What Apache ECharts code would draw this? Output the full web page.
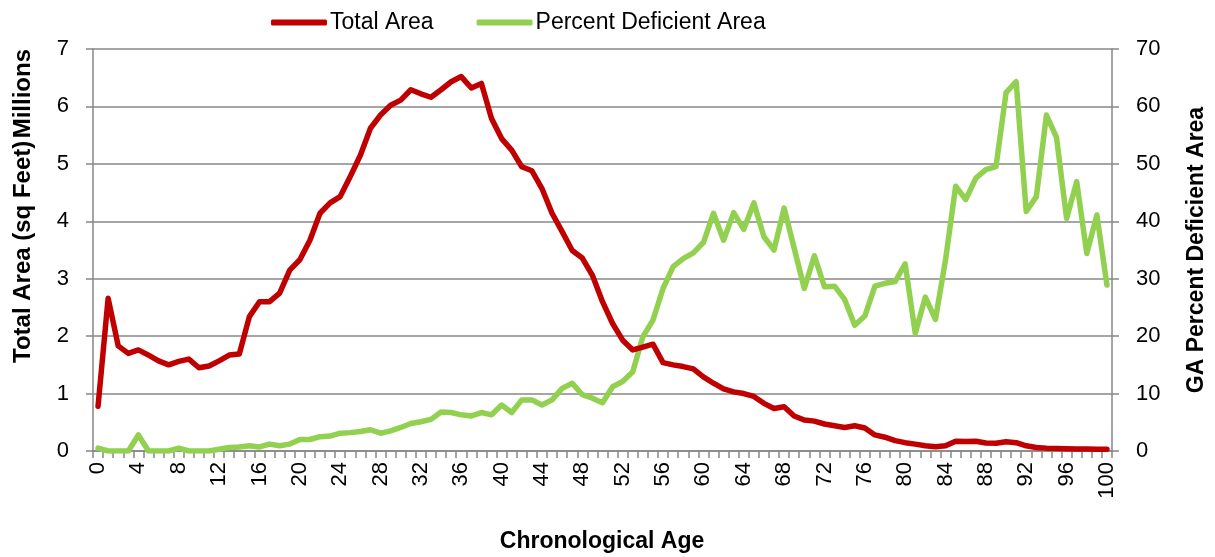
<!DOCTYPE html>
<html>
<head>
<meta charset="utf-8">
<script src="https://cdn.jsdelivr.net/npm/echarts@6/dist/echarts.min.js"></script>
<style>
  html, body { margin: 0; padding: 0; background: #fff; }
  #main { width: 1215px; height: 557px; }
</style>
</head>
<body>
<div id="main"></div>
<script>
// chronological age 0..100
const ages = [];
for (let a = 0; a <= 100; a++) ages.push(String(a));

// total area, millions of sq feet
const totalArea = [
  0.78, 2.66, 1.83, 1.70, 1.76, 1.67, 1.57, 1.50, 1.56, 1.60,
  1.45, 1.48, 1.57, 1.67, 1.69, 2.34, 2.60, 2.60, 2.75, 3.15,
  3.33, 3.67, 4.14, 4.32, 4.43, 4.78, 5.15, 5.62, 5.85, 6.02,
  6.11, 6.29, 6.22, 6.16, 6.29, 6.43, 6.52, 6.32, 6.40, 5.79,
  5.44, 5.24, 4.95, 4.88, 4.57, 4.14, 3.82, 3.49, 3.36, 3.06,
  2.60, 2.22, 1.93, 1.76, 1.81, 1.86, 1.54, 1.50, 1.47, 1.43,
  1.29, 1.18, 1.08, 1.03, 1.00, 0.95, 0.83, 0.74, 0.77, 0.61,
  0.54, 0.52, 0.47, 0.44, 0.41, 0.44, 0.40, 0.28, 0.24, 0.18,
  0.145, 0.12, 0.09, 0.075, 0.09, 0.17, 0.165, 0.17, 0.14, 0.135,
  0.16, 0.145, 0.09, 0.06, 0.05, 0.045, 0.04, 0.035, 0.035, 0.03,
  0.03
];

// GA percent deficient area
const pctDeficient = [
  0.5, 0, 0, 0, 2.8, 0, 0, 0, 0.5, 0,
  0, 0, 0.3, 0.6, 0.7, 0.9, 0.7, 1.2, 0.9, 1.2,
  2.0, 2.0, 2.5, 2.6, 3.1, 3.2, 3.4, 3.7, 3.1, 3.5,
  4.1, 4.8, 5.1, 5.5, 6.8, 6.7, 6.3, 6.1, 6.7, 6.3,
  8.0, 6.7, 8.9, 8.9, 8.0, 8.9, 10.9, 11.8, 9.8, 9.2,
  8.4, 11.2, 12.1, 13.8, 19.9, 22.8, 28.3, 32.1, 33.5, 34.5,
  36.3, 41.4, 36.7, 41.5, 38.6, 43.2, 37.3, 35.0, 42.3, 35.3,
  28.3, 34.0, 28.6, 28.7, 26.4, 21.9, 23.5, 28.7, 29.2, 29.5,
  32.6, 20.5, 26.8, 22.9, 33.3, 46.1, 43.8, 47.5, 49.0, 49.5,
  62.4, 64.3, 41.7, 44.3, 58.5, 54.6, 40.5, 46.9, 34.4, 41.1,
  28.9
];

const FONT = "'Liberation Sans', Arial, sans-serif";
const GRID_GRAY = '#878787';

const chart = echarts.init(document.getElementById('main'));

const option = {
  animation: false,
  textStyle: { fontFamily: FONT, color: '#000' },
  legend: {
    left: 266,
    top: 6,
    itemWidth: 56,
    itemHeight: 6,
    itemGap: 43,
    icon: 'roundRect',
    textStyle: { fontSize: 23, color: '#000', fontFamily: FONT, padding: [0, 0, 0, -2] },
    data: ['Total Area', 'Percent Deficient Area']
  },
  grid: { left: 93, right: 103, top: 49, bottom: 106 },
  xAxis: {
    type: 'category',
    data: ages,
    boundaryGap: true,
    axisLine: { lineStyle: { color: GRID_GRAY, width: 1.5 } },
    axisTick: { show: true, interval: 0, length: 7, lineStyle: { color: GRID_GRAY, width: 1.5 } },
    axisLabel: { interval: 3, rotate: 90, fontSize: 22, color: '#000', margin: 11, fontFamily: FONT }
  },
  yAxis: [
    {
      type: 'value',
      min: 0, max: 7, interval: 1,
      axisLine: { show: true, lineStyle: { color: GRID_GRAY, width: 1.5 } },
      axisTick: { show: true, length: 7, lineStyle: { color: GRID_GRAY, width: 1.5 } },
      axisLabel: { fontSize: 22, color: '#000', margin: 24, fontFamily: FONT },
      splitLine: { lineStyle: { color: GRID_GRAY, width: 1.5 } }
    },
    {
      type: 'value',
      min: 0, max: 70, interval: 10,
      position: 'right',
      axisLine: { show: true, lineStyle: { color: GRID_GRAY, width: 1.5 } },
      axisTick: { show: true, length: 7, lineStyle: { color: GRID_GRAY, width: 1.5 } },
      axisLabel: { fontSize: 22, color: '#000', margin: 24, fontFamily: FONT },
      splitLine: { show: false }
    }
  ],
  graphic: [
    {
      type: 'text', x: 23, y: 363, rotation: Math.PI / 2,
      style: { text: 'Total Area (sq Feet)', font: 'bold 24px ' + FONT, fill: '#000', textAlign: 'left', textVerticalAlign: 'middle' }
    },
    {
      type: 'text', x: 23, y: 49, rotation: Math.PI / 2,
      style: { text: 'Millions', font: 'bold 24px ' + FONT, fill: '#000', textAlign: 'right', textVerticalAlign: 'middle' }
    },
    {
      type: 'text', x: 1197, y: 250, rotation: Math.PI / 2,
      style: { text: 'GA Percent Deficient Area', font: 'bold 23px ' + FONT, fill: '#000', textAlign: 'center', textVerticalAlign: 'middle' }
    },
    {
      type: 'text', x: 602, y: 542,
      style: { text: 'Chronological Age', font: 'bold 23px ' + FONT, fill: '#000', textAlign: 'center', textVerticalAlign: 'middle' }
    }
  ],
  series: [
    {
      name: 'Total Area',
      type: 'line',
      data: totalArea,
      yAxisIndex: 0,
      showSymbol: false,
      symbol: 'none',
      color: '#C00000',
      lineStyle: { width: 5.5, color: '#C00000', cap: 'round', join: 'round' },
      z: 3
    },
    {
      name: 'Percent Deficient Area',
      type: 'line',
      data: pctDeficient,
      yAxisIndex: 1,
      showSymbol: false,
      symbol: 'none',
      color: '#92D050',
      lineStyle: { width: 5.5, color: '#92D050', cap: 'round', join: 'round' },
      z: 2
    }
  ]
};

chart.setOption(option);
</script>
</body>
</html>
